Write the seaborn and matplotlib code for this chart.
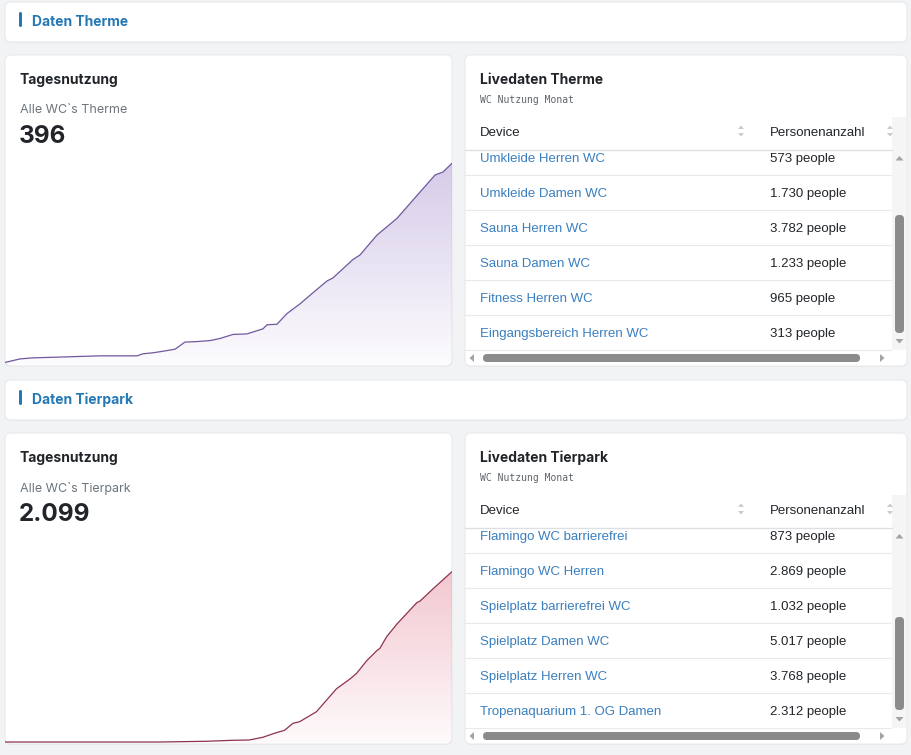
import numpy as np
import pandas as pd
import matplotlib
matplotlib.use("Agg")
import matplotlib.pyplot as plt
import seaborn as sns
from matplotlib.patches import FancyBboxPatch, Polygon, Rectangle

# ---------------- data ----------------
therme_hours = [0.0, 0.81, 1.50, 3.33, 5.10, 7.09, 7.41, 7.95, 8.48, 9.13, 9.66, 10.31, 11.01,
                11.54, 12.24, 12.99, 13.85, 14.07, 14.60, 15.14, 15.84, 16.54, 17.29, 17.61,
                18.68, 19.06, 19.97, 21.05, 21.91, 23.09, 23.52, 24.0]
therme_values = [5, 12, 14, 16, 18, 18, 22, 24, 27, 31, 45, 46, 48,
                 52, 60, 61, 71, 79, 80, 101, 120, 142, 165, 171,
                 207, 216, 255, 288, 324, 373, 379, 396]

tierpark_hours = [0.0, 3.24, 8.27, 10.79, 12.22, 13.12, 13.84, 14.56, 15.01, 15.46, 15.82, 16.72,
                  17.80, 18.52, 18.88, 19.42, 19.96, 20.13, 20.49, 21.03, 22.11, 22.29, 23.01, 24.0]
tierpark_values = [12, 12, 12, 21, 33, 37, 70, 126, 156, 241, 261, 383,
                   665, 784, 854, 1008, 1131, 1160, 1302, 1454, 1719, 1740, 1895, 2099]

therme_devices = ["Umkleide Herren WC", "Umkleide Damen WC", "Sauna Herren WC",
                  "Sauna Damen WC", "Fitness Herren WC", "Eingangsbereich Herren WC"]
therme_people = [573, 1730, 3782, 1233, 965, 313]

tierpark_devices = ["Flamingo WC barrierefrei", "Flamingo WC Herren", "Spielplatz barrierefrei WC",
                    "Spielplatz Damen WC", "Spielplatz Herren WC", "Tropenaquarium 1. OG Damen"]
tierpark_people = [873, 2869, 1032, 5017, 3768, 2312]

therme_total = 396
tierpark_total = 2099

# ---------------- style ----------------
sns.set_theme(style="white")
plt.rcParams['font.family'] = ['Inter', 'DejaVu Sans']

W, H = 911, 755
fig = plt.figure(figsize=(W / 100, H / 100), dpi=100)
fig.patch.set_facecolor('#f2f3f5')
bg = fig.add_axes([0, 0, 1, 1])
bg.set_xlim(0, W)
bg.set_ylim(H, 0)
bg.axis('off')
bg.set_zorder(0)

BLUE = '#2578b6'
LINK = '#3a7fbf'
DARK = '#212529'
GRAY = '#6c757d'
TABLE_FONT = ['Liberation Sans', 'DejaVu Sans']
TY = 2.2  # vertical text nudge (px)


def de_num(n):
    return f"{n:,}".replace(",", ".")


def card(x0, y0, x1, y1, r=6):
    bg.add_patch(FancyBboxPatch((x0, y0 + 1), x1 - x0, y1 - y0,
                                boxstyle=f"round,pad=0,rounding_size={r}",
                                fc='#e9ebee', ec='none', zorder=1))
    bg.add_patch(FancyBboxPatch((x0, y0), x1 - x0, y1 - y0,
                                boxstyle=f"round,pad=0,rounding_size={r}",
                                fc='white', ec='#e6e8eb', lw=0.7, zorder=1))


def tri(pts, color):
    bg.add_patch(Polygon(pts, closed=True, fc=color, ec='none', zorder=5))


def txt(x, y, s, **kw):
    bg.text(x, y + TY, s, va='center', ha='left', zorder=4, **kw)


def section(dy, name, place, total, hours, values, line_color, fill_rgb, fill_alpha,
            ymax, devices, people, thumb):
    # header card
    card(5, 2 + dy, 907, 42 + dy)
    bg.add_patch(FancyBboxPatch((19, 12 + dy), 3, 15, boxstyle="round,pad=0,rounding_size=1.5",
                                fc=BLUE, ec='none', zorder=3))
    txt(32, 20 + dy, f"Daten {name}", color=BLUE, fontsize=10, fontweight='bold')

    # left card
    card(5, 55 + dy, 452, 366 + dy)
    txt(20, 78 + dy, "Tagesnutzung", color=DARK, fontsize=10, fontweight='bold')
    txt(20, 108 + dy, f"Alle WC`s {place}", color=GRAY, fontsize=9)
    txt(19, 134.5 + dy, de_num(total), color=DARK, fontsize=17.5, fontweight='bold')

    # chart
    top_px, base_px = 150 + dy, 365 + dy
    ax = fig.add_axes([5 / W, 1 - base_px / H, 447 / W, (base_px - top_px) / H])
    ax.set_zorder(2)
    ax.patch.set_alpha(0)
    df = pd.DataFrame({"hour": hours, "count": values})
    sns.lineplot(data=df, x="hour", y="count", ax=ax, color=line_color, lw=0.9, zorder=3)
    ax.set_xlim(0, 24)
    ax.set_ylim(0, ymax)
    ax.axis('off')
    verts = np.column_stack([list(hours) + list(hours)[::-1],
                             list(values) + [0] * len(values)])
    clip = Polygon(verts, closed=True, fc='none', ec='none', transform=ax.transData)
    ax.add_patch(clip)
    n = 200
    img = np.zeros((n, 1, 4))
    img[..., 0] = fill_rgb[0]
    img[..., 1] = fill_rgb[1]
    img[..., 2] = fill_rgb[2]
    img[:, 0, 3] = np.linspace(fill_alpha, 0.03, n)
    im = ax.imshow(img, extent=[0, 24, 0, max(values)], origin='upper', aspect='auto', zorder=2)
    im.set_clip_path(clip)

    # right card
    card(465, 55 + dy, 907, 366 + dy)
    txt(480, 78 + dy, f"Livedaten {name}", color=DARK, fontsize=10, fontweight='bold')
    txt(480, 97.5 + dy, "WC Nutzung Monat", color='#5f656b', fontsize=7,
        family='DejaVu Sans Mono')

    # scrollbar track
    bg.add_patch(Rectangle((892, 117 + dy), 14, 233, fc='#f5f5f6', ec='none', zorder=2))
    # table header
    txt(480, 131 + dy, "Device", color=DARK, fontsize=9.5, family=TABLE_FONT)
    txt(770, 131 + dy, "Personenanzahl", color=DARK, fontsize=9.5, family=TABLE_FONT)
    for sx in (741, 890):
        tri([(sx - 3, 129 + dy), (sx + 3, 129 + dy), (sx, 125.5 + dy)], '#c8ccd0')
        tri([(sx - 3, 133 + dy), (sx + 3, 133 + dy), (sx, 136.5 + dy)], '#c8ccd0')
    bg.plot([465, 892], [150 + dy, 150 + dy], color='#dcdfe3', lw=0.9, zorder=4)

    for i, (d, p) in enumerate(zip(devices, people)):
        ty = 156.5 + 35 * i + dy
        txt(480, ty, d, color=LINK, fontsize=9.5, family=TABLE_FONT)
        txt(770, ty, f"{de_num(p)} people", color=DARK, fontsize=9.5, family=TABLE_FONT)
        ly = 174.5 + 35 * i + dy
        bg.plot([465, 891], [ly, ly], color='#e8eaed', lw=0.8, zorder=3)

    # vertical scrollbar
    tri([(895.5, 160.5 + dy), (903.5, 160.5 + dy), (899.5, 156 + dy)], '#a3a3a3')
    tri([(895.5, 339 + dy), (903.5, 339 + dy), (899.5, 343.5 + dy)], '#a3a3a3')
    bg.add_patch(FancyBboxPatch((895, thumb[0] + dy), 9, thumb[1] - thumb[0],
                                boxstyle="round,pad=0,rounding_size=4",
                                fc='#8b8b8b', ec='none', zorder=5))
    # horizontal scrollbar
    tri([(474, 354 + dy), (474, 362 + dy), (469.5, 358 + dy)], '#a3a3a3')
    tri([(880, 354 + dy), (880, 362 + dy), (884.5, 358 + dy)], '#a3a3a3')
    bg.add_patch(FancyBboxPatch((483, 354 + dy), 377, 8,
                                boxstyle="round,pad=0,rounding_size=4",
                                fc='#8b8b8b', ec='none', zorder=5))


section(0, "Therme", "Therme", therme_total, therme_hours, therme_values,
        '#72589f', (0.61, 0.52, 0.79), 0.42, 215 * 1.963,
        therme_devices, therme_people, (215, 333))
section(378, "Tierpark", "Tierpark", tierpark_total, tierpark_hours, tierpark_values,
        '#8e3352', (0.85, 0.33, 0.44), 0.33, 215 * 12.25,
        tierpark_devices, tierpark_people, (239, 332))

fig.savefig("out.png", dpi=100, facecolor=fig.get_facecolor())
